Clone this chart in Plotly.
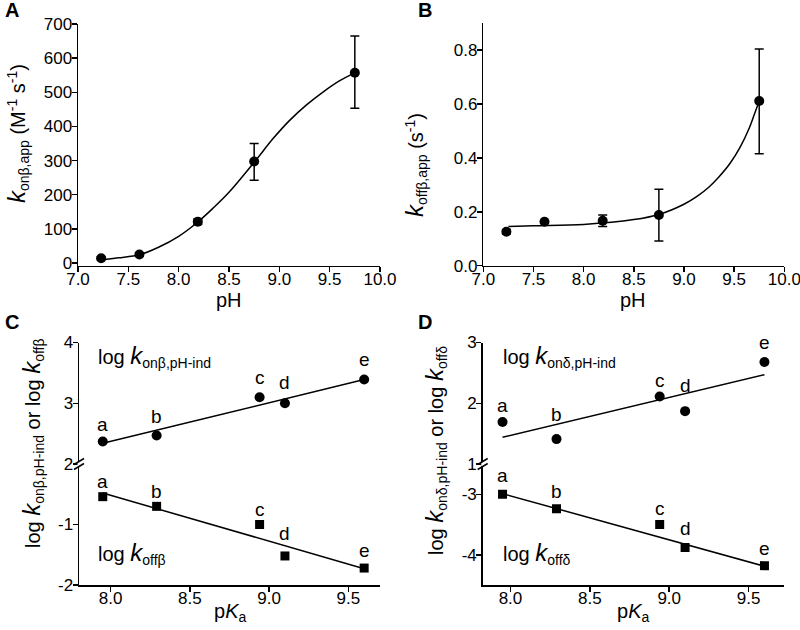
import plotly.graph_objects as go

# ---------------- data ----------------
# Panel A: k_on,beta,app vs pH
A_ph = [7.23, 7.61, 8.19, 8.75, 9.75]
A_k = [14, 25, 121, 297, 557]
A_err_plus = [4, 4, 8, 53, 108]
A_err_minus = [4, 4, 8, 55, 104]
A_fit_ph = [7.23, 7.4, 7.61, 7.8, 8.0, 8.19, 8.35, 8.5, 8.75, 8.94, 9.1, 9.27, 9.44, 9.6, 9.75]
A_fit_k = [9, 15, 24, 46, 78, 120, 163, 207, 295, 365, 417, 463, 502, 534, 557]

# Panel B: k_off,beta,app vs pH
B_ph = [7.23, 7.61, 8.19, 8.75, 9.75]
B_k = [0.126, 0.163, 0.167, 0.188, 0.611]
B_err_plus = [0.008, 0.0, 0.021, 0.096, 0.193]
B_err_minus = [0.008, 0.0, 0.022, 0.096, 0.196]
B_fit_ph = [7.25, 7.5, 8.0, 8.5, 8.75, 9.0, 9.13, 9.25, 9.35, 9.46, 9.56, 9.65, 9.7, 9.75]
B_fit_k = [0.145, 0.148, 0.153, 0.171, 0.19, 0.228, 0.257, 0.292, 0.33, 0.38, 0.44, 0.51, 0.56, 0.611]

point_labels = ["a", "b", "c", "d", "e"]
pKa = [7.95, 8.29, 8.94, 9.10, 9.60]

# Panel C
C_on = [2.37, 2.47, 3.10, 3.00, 3.39]
C_off = [-0.54, -0.70, -1.00, -1.52, -1.72]
C_on_fit_x = [7.95, 9.60]
C_on_fit_y = [2.34, 3.39]
C_off_fit_x = [7.95, 9.60]
C_off_fit_y = [-0.48, -1.73]

# Panel D
D_on = [1.69, 1.41, 2.11, 1.87, 2.68]
D_off = [-3.00, -3.24, -3.50, -3.88, -4.18]
D_on_fit_x = [7.95, 9.60]
D_on_fit_y = [1.44, 2.47]
D_off_fit_x = [7.95, 9.60]
D_off_fit_y = [-2.99, -4.19]

# label offsets (px above the point)
C_on_shift = [17, 19, 20, 21, 20]
C_off_shift = [15, 15, 15, 22, 18]
D_on_shift = [17, 25, 16, 26, 19]
D_off_shift = [19, 17, 16, 19, 17]

# ---------------- style ----------------
W, H = 800, 630
FONT = "Liberation Sans, Arial, sans-serif"
BLACK = "#000000"
LW = 1.5
TICK_SIZE = 17
TITLE_SIZE = 20
K_SIZE = 24

def px(x):
    return x / W

def py(y):
    return 1 - y / H

fig = go.Figure()

marker_c = dict(symbol="circle", size=10, color=BLACK)
marker_s = dict(symbol="square", size=9, color=BLACK)
line_s = dict(color=BLACK, width=LW)

# Panel A
fig.add_trace(go.Scatter(x=A_fit_ph, y=A_fit_k, mode="lines", line=dict(color=BLACK, width=LW, shape="spline"),
                         xaxis="x", yaxis="y", hoverinfo="skip"))
fig.add_trace(go.Scatter(x=A_ph, y=A_k, mode="markers", marker=marker_c,
                         error_y=dict(type="data", array=A_err_plus, arrayminus=A_err_minus, color=BLACK,
                                      thickness=1.5, width=4.5),
                         xaxis="x", yaxis="y"))
# Panel B
fig.add_trace(go.Scatter(x=B_fit_ph, y=B_fit_k, mode="lines", line=dict(color=BLACK, width=LW, shape="spline"),
                         xaxis="x2", yaxis="y2", hoverinfo="skip"))
fig.add_trace(go.Scatter(x=B_ph, y=B_k, mode="markers", marker=marker_c,
                         error_y=dict(type="data", array=B_err_plus, arrayminus=B_err_minus, color=BLACK,
                                      thickness=1.5, width=4.5),
                         xaxis="x2", yaxis="y2"))
# Panel C (y3 lower, y4 upper)
fig.add_trace(go.Scatter(x=C_on_fit_x, y=C_on_fit_y, mode="lines", line=line_s, xaxis="x3", yaxis="y4"))
fig.add_trace(go.Scatter(x=pKa, y=C_on, mode="markers", marker=marker_c, xaxis="x3", yaxis="y4"))
fig.add_trace(go.Scatter(x=C_off_fit_x, y=C_off_fit_y, mode="lines", line=line_s, xaxis="x3", yaxis="y3"))
fig.add_trace(go.Scatter(x=pKa, y=C_off, mode="markers", marker=marker_s, xaxis="x3", yaxis="y3"))
# Panel D (y5 lower, y6 upper)
fig.add_trace(go.Scatter(x=D_on_fit_x, y=D_on_fit_y, mode="lines", line=line_s, xaxis="x4", yaxis="y6"))
fig.add_trace(go.Scatter(x=pKa, y=D_on, mode="markers", marker=marker_c, xaxis="x4", yaxis="y6"))
fig.add_trace(go.Scatter(x=D_off_fit_x, y=D_off_fit_y, mode="lines", line=line_s, xaxis="x4", yaxis="y5"))
fig.add_trace(go.Scatter(x=pKa, y=D_off, mode="markers", marker=marker_s, xaxis="x4", yaxis="y5"))

tickfont = dict(family=FONT, size=TICK_SIZE, color=BLACK)

def ax(**kw):
    d = dict(showline=True, linecolor=BLACK, linewidth=LW, ticks="outside", ticklen=5, tickwidth=LW,
             tickcolor=BLACK, showgrid=False, zeroline=False, tickfont=tickfont, fixedrange=True,
             automargin=False, ticklabeloverflow="allow")
    d.update(kw)
    return d

def xax(**kw):
    return ax(ticklabelstandoff=-8, **kw)

def yax(**kw):
    return ax(ticklabelstandoff=-4, **kw)

def ticks(vals, fmt="{:g}"):
    return dict(tickvals=vals, ticktext=[fmt.format(v) for v in vals], tickmode="array")

ph_ticks = [7, 7.5, 8, 8.5, 9, 9.5, 10]
pka_ticks = [8, 8.5, 9, 9.5]

top_bot = 265.7
brk = 464.0
fig.update_layout(
    width=W, height=H, margin=dict(l=0, r=0, t=0, b=0, pad=0, autoexpand=False),
    paper_bgcolor="white", plot_bgcolor="white", showlegend=False,
    font=dict(family=FONT, color=BLACK),
    xaxis=xax(domain=[px(78), px(380)], range=[7, 10], anchor="y", **ticks(ph_ticks, "{:.1f}")),
    yaxis=yax(domain=[py(top_bot), py(24)], range=[-8, 700], anchor="x",
              **ticks([0, 100, 200, 300, 400, 500, 600, 700], "{:d}")),
    xaxis2=xax(domain=[px(483.3), px(784.3)], range=[7, 10], anchor="y2", **ticks(ph_ticks, "{:.1f}")),
    yaxis2=yax(domain=[py(top_bot), py(23.1)], range=[0, 0.9], anchor="x2",
               **ticks([0, 0.2, 0.4, 0.6, 0.8], "{:.1f}")),
    xaxis3=xax(domain=[px(79), px(380)], range=[7.8, 9.7], anchor="y3", **ticks(pka_ticks, "{:.1f}")),
    yaxis3=yax(domain=[py(585), py(brk)], range=[-2, 0], anchor="x3", **ticks([-2, -1], "{:d}")),
    yaxis4=yax(domain=[py(brk), py(342.5)], range=[2, 4], anchor="x3", **ticks([2, 3, 4], "{:d}")),
    xaxis4=xax(domain=[px(482.7), px(784.3)], range=[7.825, 9.725], anchor="y5", **ticks(pka_ticks, "{:.1f}")),
    yaxis5=yax(domain=[py(585), py(brk)], range=[-4.5, -2.5], anchor="x4", **ticks([-4, -3], "{:d}")),
    yaxis6=yax(domain=[py(brk), py(342.5)], range=[1, 3], anchor="x4", **ticks([1, 2, 3], "{:d}")),
)

ann = []

def text(x, y, s, size=TITLE_SIZE, angle=0, xanchor="center", yanchor="middle", bold=False):
    ann.append(dict(x=px(x), y=py(y), xref="paper", yref="paper", text=("<b>%s</b>" % s) if bold else s,
                    showarrow=False, textangle=angle, xanchor=xanchor, yanchor=yanchor,
                    font=dict(family=FONT, size=size, color=BLACK)))

K = "<i><span style='font-size:%dpx'>k</span></i>" % K_SIZE

# Panel letters
text(3, 10, "A", size=20, xanchor="left", bold=True)
text(416, 10, "B", size=20, xanchor="left", bold=True)
text(3, 322, "C", size=20, xanchor="left", bold=True)
text(416, 322, "D", size=20, xanchor="left", bold=True)

# axis titles
text(229, 300, "pH")
text(633, 300, "pH")
text(230, 612, "p<i>K</i><sub>a</sub>")
text(633, 612, "p<i>K</i><sub>a</sub>")
text(17, 134, K + "<sub>onβ,app</sub> (M<sup>-1</sup> s<sup>-1</sup>)", angle=-90)
text(416, 165, K + "<sub>offβ,app</sub> (s<sup>-1</sup>)", angle=-90)
text(32, 443, "log " + K + "<sub>onβ,pH-ind</sub> or log " + K + "<sub>offβ</sub>", angle=-90)
text(435, 450, "log " + K + "<sub>onδ,pH-ind</sub> or log " + K + "<sub>offδ</sub>", angle=-90)

# in-plot labels
text(96, 356, "log " + K + "<sub>onβ,pH-ind</sub>", xanchor="left")
text(96, 553, "log " + K + "<sub>offβ</sub>", xanchor="left")
text(501, 356, "log " + K + "<sub>onδ,pH-ind</sub>", xanchor="left")
text(501, 553, "log " + K + "<sub>offδ</sub>", xanchor="left")

def point_labels_for(xs, ys, shifts, xref, yref):
    for lab, xv, yv, sh in zip(point_labels, xs, ys, shifts):
        ann.append(dict(x=xv, y=yv, xref=xref, yref=yref, text=lab, showarrow=False,
                        yshift=sh, xanchor="center", yanchor="middle",
                        font=dict(family=FONT, size=19, color=BLACK)))

point_labels_for(pKa, C_on, C_on_shift, "x3", "y4")
point_labels_for(pKa, C_off, C_off_shift, "x3", "y3")
point_labels_for(pKa, D_on, D_on_shift, "x4", "y6")
point_labels_for(pKa, D_off, D_off_shift, "x4", "y5")

fig.update_layout(annotations=ann)

# axis break marks
shapes = []
for axis_x in (79, 482.7):
    shapes.append(dict(type="line", xref="paper", yref="paper",
                       x0=px(axis_x), y0=py(brk - 2), x1=px(axis_x), y1=py(brk + 2),
                       line=dict(color="white", width=3)))
    for dy in (-2.5, 2.5):
        shapes.append(dict(type="line", xref="paper", yref="paper",
                           x0=px(axis_x - 5), y0=py(brk + dy + 3), x1=px(axis_x + 5), y1=py(brk + dy - 3),
                           line=dict(color=BLACK, width=1.5)))
fig.update_layout(shapes=shapes)

fig.write_html("out.html", config={"displayModeBar": False, "staticPlot": True},
               post_script="document.body.style.margin='0';")
